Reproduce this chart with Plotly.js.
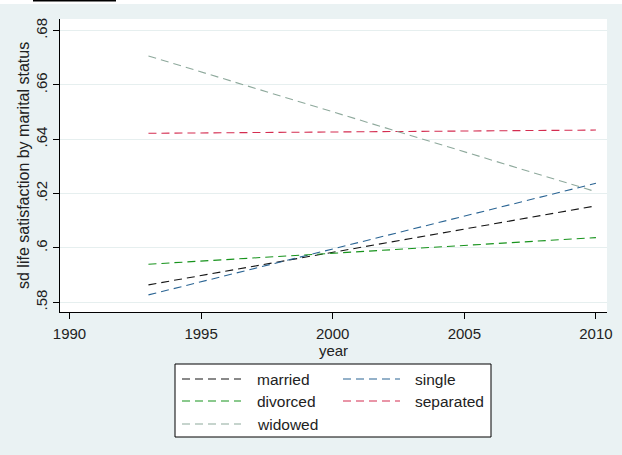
<!DOCTYPE html>
<html>
<head>
<meta charset="utf-8">
<script src="https://cdn.plot.ly/plotly-3.0.1.min.js"></script>
<style>
html,body{margin:0;padding:0;background:#eaf2f3;}
#chart{width:622px;height:455px;}
</style>
</head>
<body>
<div id="chart"></div>
<script>
// ---- data ----
const years = [1993, 2010];
const married = [0.5864, 0.6155];
const single = [0.5827, 0.6238];
const divorced = [0.5940, 0.6038];
const separated = [0.6422, 0.6434];
const widowed = [0.6707, 0.6207];
const seriesNames = ['married', 'single', 'divorced', 'separated', 'widowed'];
const seriesColors = ['#151515', '#2b6594', '#17931c', '#d42d50', '#8ea99c'];
const yTickVals = [0.58, 0.60, 0.62, 0.64, 0.66, 0.68];
const yTickText = ['.58', '.6', '.62', '.64', '.66', '.68'];
const xTickVals = [1990, 1995, 2000, 2005, 2010];
const xTickText = ['1990', '1995', '2000', '2005', '2010'];
const yTitle = 'sd life satisfaction by marital status';
const xTitle = 'year';

const seriesValues = [married, single, divorced, separated, widowed];
const DASH = '8px,5px';
const FONT = 'Liberation Sans, Arial, sans-serif';

const traces = seriesNames.map((n, i) => ({
  type: 'scatter', mode: 'lines', name: n,
  x: years, y: seriesValues[i],
  line: {color: seriesColors[i], width: 1.1, dash: DASH},
  showlegend: false, hoverinfo: 'skip'
}));

// plot area in pixels: x 60..607, y 19..312
const L = 60, R = 607, T = 19, B = 312;
const px = v => (v - L) / (R - L);
const py = v => (B - v) / (B - T);

const shapes = [];
const annotations = [];
// top strip artifact
shapes.push({type:'rect', xref:'paper', yref:'paper', x0:px(0), x1:px(622), y0:py(4), y1:py(0), fillcolor:'#ffffff', line:{width:0}, layer:'below'});
shapes.push({type:'rect', xref:'paper', yref:'paper', x0:px(33), x1:px(116), y0:py(1.5), y1:py(0), fillcolor:'#000000', line:{width:0}});
// legend box
shapes.push({type:'rect', xref:'paper', yref:'paper', x0:px(175), x1:px(491), y0:py(437), y1:py(364), fillcolor:'#ffffff', line:{color:'#000000', width:1}});
const colLine = [[182, 241], [343, 400]];
const colText = [255, 413];
const rowY = [379, 401, 424];
seriesNames.forEach((n, i) => {
  const c = i % 2, r = Math.floor(i / 2);
  shapes.push({type:'line', xref:'paper', yref:'paper', x0:px(colLine[c][0]), x1:px(colLine[c][1]), y0:py(rowY[r]), y1:py(rowY[r]), line:{color:seriesColors[i], width:1.2, dash:DASH}});
  annotations.push({xref:'paper', yref:'paper', x:px(colText[c]), y:py(rowY[r]), text:n, showarrow:false, xanchor:'left', yanchor:'middle', font:{family:FONT, size:15.5, color:'#222'}});
});
// y axis title
annotations.push({xref:'paper', yref:'paper', x:px(23), y:py(166), text:yTitle, textangle:-90, showarrow:false, xanchor:'center', yanchor:'middle', font:{family:FONT, size:16, color:'#222'}});

const layout = {
  width: 622, height: 455,
  margin: {l: L, r: 622 - R, t: T, b: 455 - B, pad: 0},
  paper_bgcolor: '#eaf2f3', plot_bgcolor: '#ffffff',
  showlegend: false,
  font: {family: FONT, size: 15, color: '#222'},
  xaxis: {
    range: [1989.64, 2010.42], tickvals: xTickVals, ticktext: xTickText,
    showgrid: false, zeroline: false, showline: true, linecolor: '#000', linewidth: 1.2,
    ticks: 'outside', ticklen: 6, tickcolor: '#000', tickwidth: 1,
    ticklabelstandoff: 2,
    tickfont: {size: 15, family: FONT, color: '#222'},
    title: {text: xTitle, font: {size: 15, family: FONT, color: '#222'}, standoff: 0}
  },
  yaxis: {
    range: [0.5764, 0.6843], tickvals: yTickVals, ticktext: yTickText,
    tickangle: -90,
    showgrid: true, gridcolor: '#e6efef', gridwidth: 1,
    zeroline: false, showline: true, linecolor: '#000', linewidth: 1.2,
    ticks: 'outside', ticklen: 6, tickcolor: '#000', tickwidth: 1,
    ticklabelstandoff: 0,
    tickfont: {size: 15, family: FONT, color: '#222'}
  },
  shapes: shapes,
  annotations: annotations
};

Plotly.newPlot('chart', traces, layout, {staticPlot: true, displayModeBar: false});
</script>
</body>
</html>
